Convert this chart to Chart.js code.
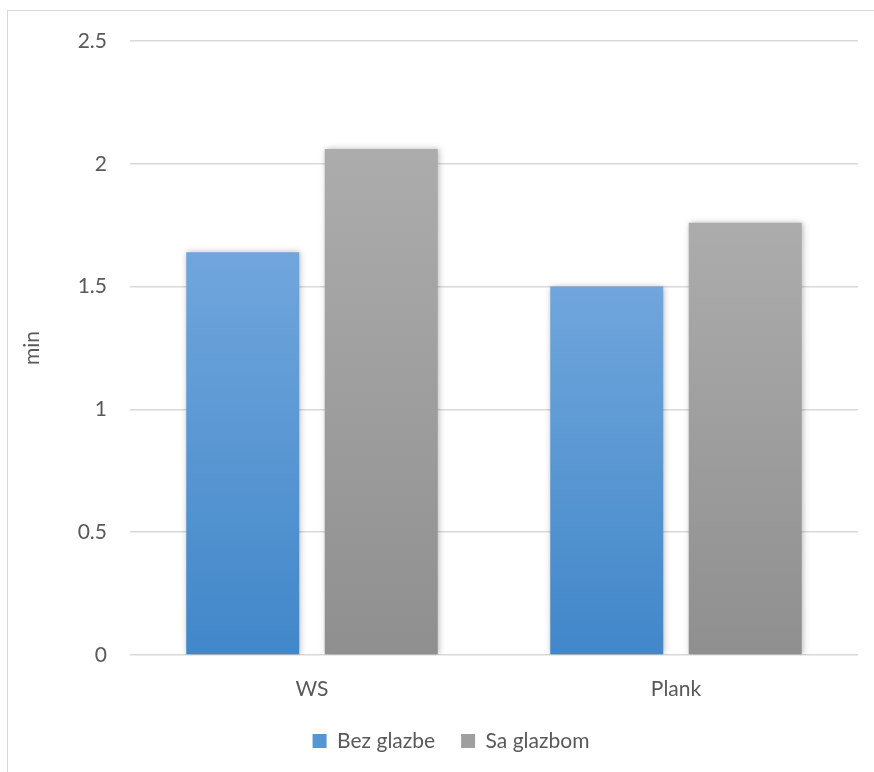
<!DOCTYPE html>
<html>
<head>
<meta charset="utf-8">
<script src="https://cdn.jsdelivr.net/npm/chart.js@4"></script>
<style>
  html, body { margin: 0; padding: 0; background: #ffffff; }
  #wrap { position: relative; width: 874px; height: 772px; overflow: hidden; }
  #frame { position: absolute; left: 7px; top: 10px; width: 900px; height: 800px;
           border: 1px solid #d9d9d9; box-sizing: border-box; }
  #c { position: absolute; left: 0; top: 0; }
</style>
</head>
<body>
<div id="wrap">
  <div id="frame"></div>
  <canvas id="c" width="874" height="772"></canvas>
</div>
<script>
// Exercise duration (minutes), with and without music
const categories = ['WS', 'Plank'];
const seriesNames = ['Bez glazbe', 'Sa glazbom'];
const bezGlazbe = [1.64, 1.50];
const saGlazbom = [2.06, 1.76];
const yTicks = [0, 0.5, 1, 1.5, 2, 2.5];

const textColor = '#595959';
const fontFamily = 'Lato, "Liberation Sans", sans-serif';
const fontSize = 21;

// Vertical gradient per bar: lighter at the top, darker at the base
function barGradient(topColor, bottomColor) {
  return (ctx) => {
    const chart = ctx.chart;
    const area = chart.chartArea;
    if (!area || ctx.type !== 'data') return bottomColor;
    const yScale = chart.scales.y;
    const top = yScale.getPixelForValue(ctx.parsed.y);
    const base = yScale.getPixelForValue(0);
    if (!isFinite(top) || !isFinite(base) || top === base) return bottomColor;
    const g = chart.ctx.createLinearGradient(0, top, 0, base);
    g.addColorStop(0, topColor);
    g.addColorStop(1, bottomColor);
    return g;
  };
}

// Soft drop shadow behind the bars
const barShadow = {
  id: 'barShadow',
  beforeDatasetsDraw(chart) {
    const c = chart.ctx;
    c.save();
    c.shadowColor = 'rgba(0,0,0,0.28)';
    c.shadowBlur = 6;
    c.shadowOffsetX = 1;
    c.shadowOffsetY = 0;
  },
  afterDatasetsDraw(chart) {
    chart.ctx.restore();
  }
};

// Nudge the legend row a little to the right of the canvas centre
const legendOffset = {
  id: 'legendOffset',
  afterLayout(chart) {
    const l = chart.legend;
    if (l) { l.left += 22; l.right += 22; }
  }
};

new Chart(document.getElementById('c'), {
  type: 'bar',
  data: {
    labels: categories,
    datasets: [
      {
        label: seriesNames[0],
        data: bezGlazbe,
        backgroundColor: barGradient('#70a6dc', '#4187c9'),
        categoryPercentage: 0.761,
        barPercentage: 0.816
      },
      {
        label: seriesNames[1],
        data: saGlazbom,
        backgroundColor: barGradient('#acacac', '#8f8f8f'),
        categoryPercentage: 0.761,
        barPercentage: 0.816
      }
    ]
  },
  options: {
    responsive: false,
    animation: false,
    layout: { padding: { top: 41, right: 16, bottom: 10.5, left: 0 } },
    plugins: {
      tooltip: { enabled: false },
      legend: {
        position: 'bottom',
        labels: {
          color: textColor,
          font: { family: fontFamily, size: fontSize },
          boxWidth: 14,
          boxHeight: 14,
          padding: 26,
          generateLabels(chart) {
            const solids = ['#5595d5', '#9f9f9f'];
            return chart.data.datasets.map((ds, i) => ({
              text: ds.label,
              fillStyle: solids[i],
              strokeStyle: solids[i],
              lineWidth: 0,
              hidden: false,
              datasetIndex: i,
              fontColor: textColor
            }));
          }
        }
      }
    },
    scales: {
      x: {
        afterFit(scale) { scale.height = 49.5; },
        grid: { display: false, drawTicks: false },
        border: { display: false },
        ticks: {
          color: textColor,
          font: { family: fontFamily, size: fontSize },
          padding: 22
        }
      },
      y: {
        min: 0,
        max: 2.5,
        afterBuildTicks(scale) {
          scale.ticks = yTicks.map(v => ({ value: v }));
        },
        afterFit(scale) { scale.width = 130; },
        grid: { color: '#d9d9d9', lineWidth: 1.5, drawTicks: false },
        border: { display: false },
        ticks: {
          color: textColor,
          font: { family: fontFamily, size: fontSize },
          padding: 23,
          callback: (v) => String(v)
        },
        title: {
          display: true,
          text: 'min',
          color: textColor,
          font: { family: fontFamily, size: fontSize },
          padding: { top: 20, bottom: 0 }
        }
      }
    }
  },
  plugins: [barShadow, legendOffset]
});
</script>
</body>
</html>
